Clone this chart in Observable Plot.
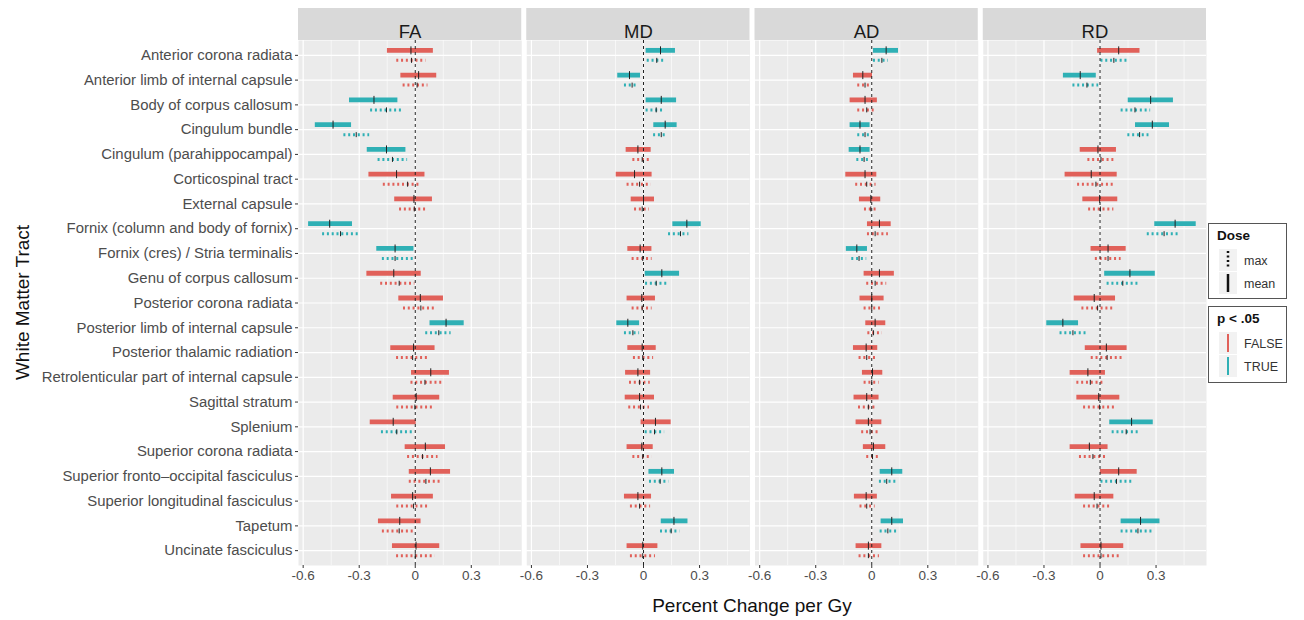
<!DOCTYPE html>
<html><head><meta charset="utf-8">
<script src="https://cdn.jsdelivr.net/npm/d3@7"></script>
<script src="https://cdn.jsdelivr.net/npm/@observablehq/plot@0.6"></script>
<style>body{margin:0;background:#fff;font-family:"Liberation Sans",Arial,sans-serif}</style>
</head><body><div id="chart"></div>
<script>
const tracts = [
  "Anterior corona radiata","Anterior limb of internal capsule","Body of corpus callosum","Cingulum bundle",
  "Cingulum (parahippocampal)","Corticospinal tract","External capsule","Fornix (column and body of fornix)",
  "Fornix (cres) / Stria terminalis","Genu of corpus callosum","Posterior corona radiata","Posterior limb of internal capsule",
  "Posterior thalamic radiation","Retrolenticular part of internal capsule","Sagittal stratum","Splenium",
  "Superior corona radiata","Superior fronto\u2013occipital fasciculus","Superior longitudinal fasciculus","Tapetum","Uncinate fasciculus"
];
const metrics = ["FA","MD","AD","RD"];
const doses = ["max","mean"];
const sigLevels = ["FALSE","TRUE"];
const sigColors = ["#e1615a","#2fb0b5"];
const xTicks = [-0.6,-0.3,0,0.3];
const xMinor = [-0.45,-0.15,0.15,0.45];
const refValue = 0;

// [lower, estimate, upper]
const FA_mean = [[-0.149,-0.023,0.097],[-0.077,0.018,0.115],[-0.352,-0.221,-0.093],[-0.535,-0.44,-0.341],[-0.257,-0.154,-0.05],[-0.248,-0.1,0.052],[-0.11,-0.007,0.092],[-0.571,-0.458,-0.336],[-0.206,-0.108,-0.007],[-0.259,-0.115,0.032],[-0.088,0.027,0.151],[0.079,0.165,0.262],[-0.131,-0.009,0.106],[-0.02,0.083,0.183],[-0.118,0.005,0.131],[-0.241,-0.118,0.005],[-0.054,0.054,0.162],[-0.032,0.081,0.189],[-0.127,-0.014,0.097],[-0.197,-0.083,0.031],[-0.122,0.004,0.131]];
const FA_mean_sig = [0,0,1,1,1,0,0,1,1,0,0,1,0,0,0,0,0,0,0,0,0];
const FA_max = [[-0.099,-0.02,0.057],[-0.065,0.01,0.068],[-0.239,-0.154,-0.07],[-0.382,-0.316,-0.244],[-0.199,-0.122,-0.041],[-0.171,-0.041,0.031],[-0.084,-0.005,0.056],[-0.496,-0.4,-0.3],[-0.176,-0.108,-0.011],[-0.185,-0.086,-0.002],[-0.063,0.03,0.106],[0.056,0.126,0.192],[-0.1,-0.014,0.065],[-0.023,0.052,0.142],[-0.099,-0.002,0.099],[-0.181,-0.099,-0.011],[-0.041,0.039,0.122],[-0.032,0.057,0.142],[-0.099,-0.009,0.068],[-0.176,-0.086,0.0],[-0.1,0.0,0.106]];
const FA_max_sig = [0,0,1,1,1,0,0,1,1,0,0,1,0,0,0,1,0,0,0,0,0];

const MD_mean = [[0.014,0.091,0.171],[-0.138,-0.075,-0.016],[0.014,0.095,0.177],[0.055,0.116,0.18],[-0.093,-0.03,0.041],[-0.146,-0.048,0.046],[-0.066,0.0,0.059],[0.157,0.232,0.309],[-0.084,-0.018,0.045],[0.009,0.098,0.193],[-0.088,-0.009,0.064],[-0.143,-0.084,-0.021],[-0.084,-0.007,0.068],[-0.096,-0.03,0.038],[-0.098,-0.021,0.059],[-0.013,0.064,0.148],[-0.088,-0.009,0.052],[0.029,0.098,0.166],[-0.102,-0.03,0.043],[0.095,0.163,0.238],[-0.088,-0.004,0.077]];
const MD_mean_sig = [1,1,1,1,0,0,0,1,0,1,0,1,0,0,0,0,0,1,0,1,0];
const MD_max = [[0.02,0.071,0.121],[-0.102,-0.061,-0.027],[0.014,0.068,0.116],[0.054,0.095,0.125],[-0.057,-0.007,0.041],[-0.088,-0.021,0.041],[-0.048,-0.007,0.032],[0.134,0.198,0.243],[-0.061,-0.004,0.046],[0.011,0.068,0.125],[-0.061,-0.007,0.046],[-0.102,-0.057,-0.021],[-0.054,-0.004,0.054],[-0.075,-0.021,0.036],[-0.079,-0.016,0.032],[0.009,0.059,0.113],[-0.057,-0.004,0.046],[0.032,0.089,0.136],[-0.07,-0.021,0.038],[0.091,0.148,0.195],[-0.07,-0.004,0.064]];
const MD_max_sig = [1,1,1,1,0,0,0,1,0,1,0,1,0,0,0,1,0,1,0,1,0];

const AD_mean = [[0.009,0.077,0.143],[-0.098,-0.048,0.004],[-0.116,-0.036,0.03],[-0.116,-0.063,-0.009],[-0.121,-0.063,-0.009],[-0.139,-0.036,0.027],[-0.066,-0.005,0.048],[-0.023,0.041,0.104],[-0.136,-0.08,-0.023],[-0.041,0.041,0.121],[-0.063,0.0,0.066],[-0.032,0.018,0.075],[-0.098,-0.03,0.032],[-0.05,0.004,0.059],[-0.095,-0.027,0.039],[-0.084,-0.018,0.054],[-0.045,0.009,0.075],[0.045,0.107,0.166],[-0.093,-0.03,0.03],[0.05,0.107,0.17],[-0.084,-0.018,0.054]];
const AD_mean_sig = [1,0,0,1,1,0,0,0,1,0,0,0,0,0,0,0,0,1,0,1,0];
const AD_max = [[0.009,0.054,0.089],[-0.075,-0.036,0.0],[-0.075,-0.027,0.021],[-0.075,-0.036,-0.004],[-0.08,-0.041,-0.005],[-0.086,-0.027,0.023],[-0.039,-0.005,0.032],[-0.023,0.018,0.089],[-0.107,-0.068,-0.027],[-0.027,0.018,0.08],[-0.041,0.0,0.048],[-0.021,0.009,0.057],[-0.068,-0.027,0.032],[-0.041,0.0,0.039],[-0.071,-0.018,0.03],[-0.054,-0.009,0.036],[-0.027,0.004,0.05],[0.041,0.08,0.143],[-0.063,-0.027,0.018],[0.045,0.086,0.143],[-0.068,-0.018,0.041]];
const AD_max_sig = [1,0,0,1,1,0,0,0,1,0,0,0,0,0,0,0,0,1,0,1,0];

const RD_mean = [[-0.013,0.1,0.214],[-0.196,-0.106,-0.02],[0.151,0.271,0.393],[0.19,0.28,0.372],[-0.106,-0.011,0.088],[-0.187,-0.047,0.092],[-0.092,-0.002,0.095],[0.293,0.402,0.515],[-0.048,0.043,0.14],[0.025,0.16,0.296],[-0.138,-0.031,0.083],[-0.285,-0.199,-0.115],[-0.079,0.034,0.145],[-0.16,-0.065,0.029],[-0.124,-0.007,0.106],[0.052,0.169,0.285],[-0.16,-0.057,0.043],[0.002,0.1,0.199],[-0.133,-0.031,0.074],[0.113,0.217,0.321],[-0.102,0.005,0.127]];
const RD_mean_sig = [0,1,1,1,0,0,0,1,0,1,0,1,0,0,0,1,0,0,0,1,0];
const RD_max = [[0.005,0.074,0.145],[-0.145,-0.07,-0.007],[0.113,0.187,0.271],[0.149,0.212,0.262],[-0.065,0.005,0.074],[-0.12,-0.022,0.077],[-0.061,0.002,0.074],[0.253,0.343,0.424],[-0.025,0.043,0.113],[0.038,0.122,0.208],[-0.097,-0.013,0.07],[-0.214,-0.145,-0.075],[-0.047,0.038,0.118],[-0.124,-0.052,0.016],[-0.088,-0.002,0.086],[0.065,0.14,0.217],[-0.11,-0.038,0.032],[0.005,0.088,0.172],[-0.088,-0.016,0.052],[0.113,0.203,0.289],[-0.088,0.005,0.113]];
const RD_max_sig = [1,1,1,1,0,0,0,1,0,1,0,1,0,0,0,1,0,1,0,1,0];

const source = {
  FA: {mean: [FA_mean, FA_mean_sig], max: [FA_max, FA_max_sig]},
  MD: {mean: [MD_mean, MD_mean_sig], max: [MD_max, MD_max_sig]},
  AD: {mean: [AD_mean, AD_mean_sig], max: [AD_max, AD_max_sig]},
  RD: {mean: [RD_mean, RD_mean_sig], max: [RD_max, RD_max_sig]}
};
const rows = [];
for (const m of metrics) for (const d of doses) {
  const [vals, sig] = source[m][d];
  vals.forEach((v, i) => rows.push({metric: m, dose: d, tract: tracts[i], lo: v[0], est: v[1], hi: v[2], sig: sigLevels[sig[i]]}));
}
const meanRows = rows.filter(r => r.dose === "mean");
const maxRows = rows.filter(r => r.dose === "max");

const vTick = {draw(ctx, size) { const r = Math.sqrt(size / Math.PI); ctx.moveTo(0, -r); ctx.lineTo(0, r); }};

const W = 1304, H = 620, mL = 298, mR = 98, mT = 40, mB = 55;
const frameH = H - mT - mB;
const font = "'Liberation Sans', Arial, sans-serif";

const svg = Plot.plot({
  width: W, height: H,
  marginLeft: mL, marginRight: mR, marginTop: mT, marginBottom: mB,
  style: {fontFamily: font, fontSize: "13px", color: "#4d4d4d", background: "white", overflow: "visible"},
  fx: {domain: metrics, paddingInner: 0.022, paddingOuter: 0, axis: null, label: null, round: false},
  x: {domain: [-0.625, 0.57], label: null},
  y: {type: "point", domain: tracts, padding: 0.6, round: false, label: null},
  color: {domain: sigLevels, range: sigColors},
  marks: [
    Plot.frame({fill: "#ebebeb", stroke: "none"}),
    Plot.rect(metrics, {fx: d => d, fill: "#d9d9d9", insetTop: -32, insetBottom: frameH}),
    Plot.text(metrics, {fx: d => d, text: d => d, frameAnchor: "top", dy: -16, fontSize: 18.5, fill: "#1a1a1a"}),
    Plot.gridX(xMinor, {stroke: "white", strokeOpacity: 1, strokeWidth: 0.6}),
    Plot.gridX(xTicks, {stroke: "white", strokeOpacity: 1, strokeWidth: 1.2}),
    Plot.gridY(tracts, {stroke: "white", strokeOpacity: 1, strokeWidth: 1.2}),
    Plot.ruleY(meanRows, {fx: "metric", y: "tract", x1: "lo", x2: "hi", stroke: "sig", strokeWidth: 4.8, dy: -5}),
    Plot.ruleY(maxRows, {fx: "metric", y: "tract", x1: "lo", x2: "hi", stroke: "sig", strokeWidth: 3, strokeDasharray: "2,2.8", dy: 5}),
    Plot.ruleX([refValue], {stroke: "#222", strokeWidth: 1, strokeDasharray: "3,3"}),
    Plot.dot(meanRows, {fx: "metric", x: "est", y: "tract", symbol: vTick, r: 4, stroke: "#222", fill: "none", strokeWidth: 1, dy: -5}),
    Plot.dot(maxRows, {fx: "metric", x: "est", y: "tract", symbol: vTick, r: 2.5, stroke: "#222", fill: "none", strokeWidth: 1, dy: 5}),
    Plot.axisX(xTicks, {tickSize: 3, tickPadding: 2, fontSize: 13.5, stroke: "#333", fill: "#4d4d4d", tickFormat: d => d === 0 ? "0" : String(d), label: null}),
    Plot.axisY({tickSize: 3, tickPadding: 3, fontSize: 14.9, stroke: "#333", fill: "#4d4d4d", label: null})
  ]
});

const s = d3.select(svg);
s.append("text").attr("x", (mL + W - mR) / 2).attr("y", 612).attr("text-anchor", "middle")
  .attr("font-family", font).attr("font-size", 19).attr("fill", "#111").text("Percent Change per Gy");
s.append("text").attr("transform", `translate(29,${mT + frameH / 2}) rotate(-90)`).attr("text-anchor", "middle")
  .attr("font-family", font).attr("font-size", 19).attr("fill", "#111").text("White Matter Tract");

// legends
const lg = s.append("g").attr("font-family", font).attr("text-anchor", "start");
function box(y0, h, title, items) {
  lg.append("rect").attr("x", 1208.5).attr("y", y0 + 0.5).attr("width", 78).attr("height", h).attr("fill", "white").attr("stroke", "#555");
  lg.append("text").attr("x", 1217).attr("y", y0 + 17).attr("font-size", 13.5).attr("font-weight", "bold").attr("fill", "#111").text(title);
  items.forEach((it, i) => {
    const cy = y0 + 37 + i * 23;
    lg.append("rect").attr("x", 1219).attr("y", cy - 11).attr("width", 18).attr("height", 22).attr("fill", "#f2f2f2");
    const ln = lg.append("line").attr("x1", 1228).attr("x2", 1228).attr("y1", cy - 9).attr("y2", cy + 9)
      .attr("stroke", it.color).attr("stroke-width", it.w);
    if (it.dash) ln.attr("stroke-dasharray", it.dash);
    lg.append("text").attr("x", 1244).attr("y", cy + 4.5).attr("font-size", 12.5).attr("fill", "#333").text(it.label);
  });
}
box(223, 75, "Dose", [
  {label: doses[0], color: "#111", w: 2.5, dash: "2,2.5"},
  {label: doses[1], color: "#111", w: 2.5}
]);
box(306, 76, "p < .05", sigLevels.map((l, i) => ({label: l, color: sigColors[i], w: 2})));

document.getElementById("chart").appendChild(svg);
</script></body></html>
